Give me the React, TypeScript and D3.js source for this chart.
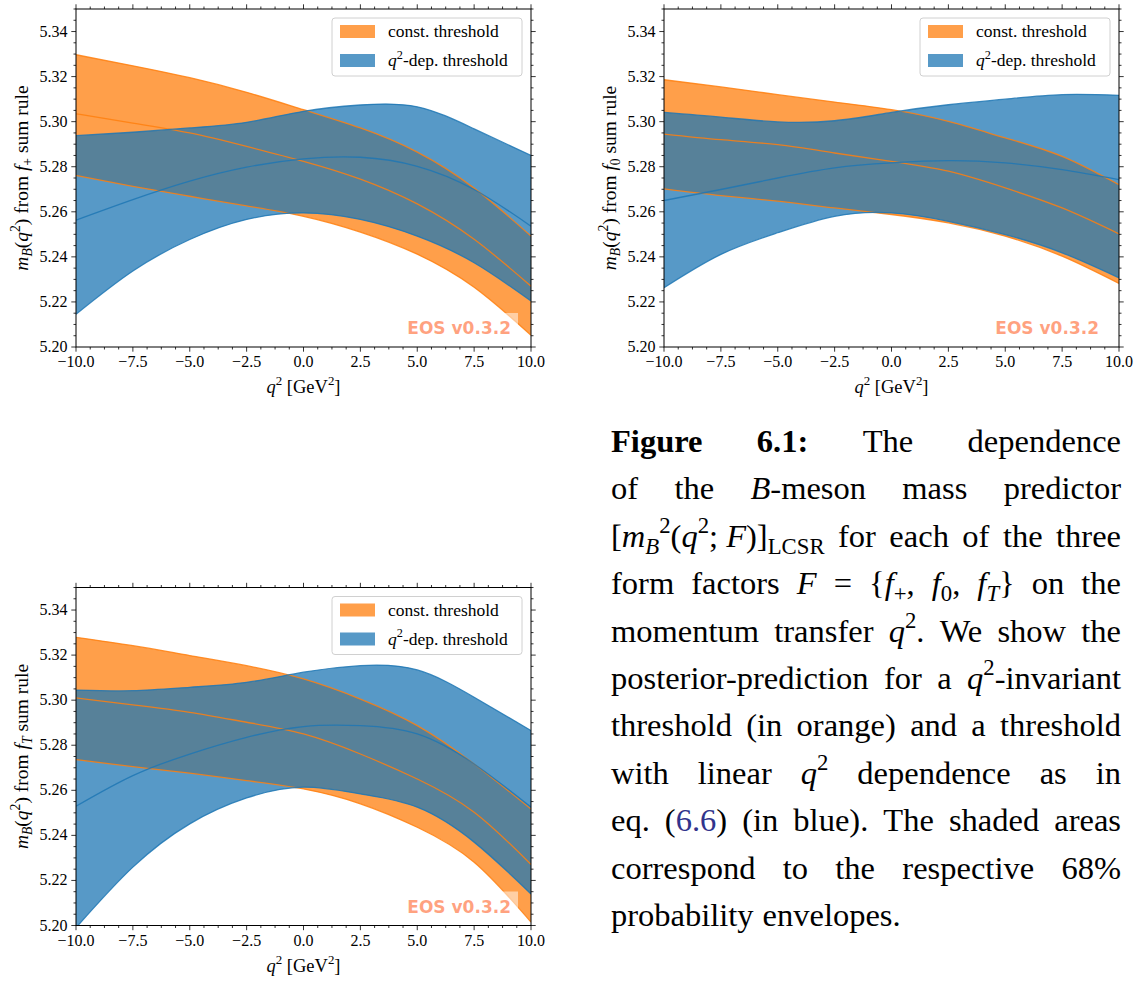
import React from 'react';
import * as d3 from 'd3';

// ---------------- data ----------------
const Q2 = [-10, -7.5, -5, -2.5, 0, 2.5, 5, 7.5, 10];

// f+ sum rule
const fpConstHi = [5.3297, 5.3248, 5.3195, 5.313, 5.3053, 5.2972, 5.2865, 5.2705, 5.2492];
const fpConstMid = [5.3035, 5.2994, 5.295, 5.289, 5.2824, 5.2745, 5.2635, 5.2478, 5.227];
const fpConstLo = [5.2761, 5.2713, 5.2669, 5.2626, 5.258, 5.251, 5.2412, 5.2265, 5.2052];
const fpDepHi = [5.2938, 5.2953, 5.2972, 5.2997, 5.3046, 5.3074, 5.3066, 5.2968, 5.285];
const fpDepMid = [5.2563, 5.2654, 5.2736, 5.2798, 5.2835, 5.2842, 5.2802, 5.2699, 5.2536];
const fpDepLo = [5.2145, 5.2337, 5.2477, 5.2566, 5.2595, 5.2566, 5.2492, 5.2374, 5.2204];

// f0 sum rule
const f0ConstHi = [5.3186, 5.3154, 5.312, 5.3087, 5.3053, 5.3001, 5.2928, 5.2846, 5.272];
const f0ConstMid = [5.2945, 5.292, 5.2898, 5.2861, 5.2824, 5.278, 5.2706, 5.2617, 5.2502];
const f0ConstLo = [5.2702, 5.2672, 5.2647, 5.2617, 5.2588, 5.2551, 5.2492, 5.2403, 5.2282];
const f0DepHi = [5.3041, 5.302, 5.2999, 5.3004, 5.3041, 5.3075, 5.31, 5.312, 5.3117];
const f0DepMid = [5.265, 5.2699, 5.275, 5.2795, 5.2817, 5.2827, 5.2817, 5.2787, 5.2743];
const f0DepLo = [5.2263, 5.2411, 5.2507, 5.258, 5.2595, 5.2558, 5.2499, 5.2418, 5.2307];

// fT sum rule
const fTConstHi = [5.3279, 5.3242, 5.3198, 5.3153, 5.3094, 5.3005, 5.2887, 5.2717, 5.2517];
const fTConstMid = [5.301, 5.2979, 5.2946, 5.2902, 5.285, 5.2761, 5.265, 5.2503, 5.2271];
const fTConstLo = [5.2736, 5.2705, 5.2676, 5.2643, 5.2606, 5.254, 5.2436, 5.2281, 5.2015];
const fTDepHi = [5.3045, 5.3042, 5.3057, 5.3079, 5.3124, 5.3153, 5.3134, 5.3013, 5.2865];
const fTDepMid = [5.2529, 5.2665, 5.2761, 5.2835, 5.2883, 5.2887, 5.285, 5.2717, 5.2525];
const fTDepLo = [5.199, 5.2259, 5.2451, 5.2566, 5.2614, 5.2584, 5.2525, 5.237, 5.214];

const X_DOMAIN = [-10, 10];
const Y_DOMAIN = [5.2, 5.35];
const X_TICKS = [-10, -7.5, -5, -2.5, 0, 2.5, 5, 7.5, 10];
const Y_TICKS = [5.2, 5.22, 5.24, 5.26, 5.28, 5.3, 5.32, 5.34];
const LEGEND_LABELS = ['const. threshold', 'q2-dep. threshold'];
const WATERMARK = 'EOS v0.3.2';

// ---------------- rich text helpers ----------------
type Span = { t: string; it?: boolean; b?: boolean; sc?: number; dy?: number; c?: string };
const R = (t: string): Span => ({ t });
const It = (t: string): Span => ({ t, it: true });
const Bd = (t: string): Span => ({ t, b: true });
const Sup = (t: string): Span => ({ t, sc: 0.7, dy: -0.42 });
const Sub = (t: string, it = false): Span => ({ t, sc: 0.7, dy: 0.22, it });

const SERIF = 'Liberation Serif';
const SERIF_CSS = "'Liberation Serif', 'DejaVu Serif', serif";

let _ctx: CanvasRenderingContext2D | null = null;
function textWidth(t: string, font: string) {
  if (!_ctx) _ctx = document.createElement('canvas').getContext('2d');
  _ctx!.font = font;
  return _ctx!.measureText(t).width;
}

function layout(spans: Span[], size: number) {
  let x = 0;
  const items: any[] = [];
  for (const s of spans) {
    const fs = size * (s.sc ?? 1);
    const font = `${s.it ? 'italic ' : ''}${s.b ? 'bold ' : ''}${fs}px "${SERIF}"`;
    const w = textWidth(s.t, font);
    items.push({ ...s, x, fs, w });
    x += w;
  }
  return { items, width: x };
}

// one <text> element per rich string; spans placed as absolutely positioned tspans
function Rich({ spans, size, x, y, anchor = 'start', fill = '#000' }: any) {
  const { items, width } = layout(spans, size);
  const x0 = anchor === 'middle' ? x - width / 2 : anchor === 'end' ? x - width : x;
  return (
    <text fontFamily={SERIF_CSS} fill={fill} style={{ whiteSpace: 'pre' }}>
      {items.map((it: any, i: number) => (
        <tspan
          key={i}
          x={x0 + it.x}
          y={y + (it.dy ?? 0) * size}
          fontSize={it.fs}
          fontStyle={it.it ? 'italic' : 'normal'}
          fontWeight={it.b ? 'bold' : 'normal'}
          fill={it.c ?? fill}
        >
          {it.t}
        </tspan>
      ))}
    </text>
  );
}

// ---------------- panel ----------------
const ORANGE = '#ff7f0e';
const BLUE = '#1f77b4';
const W = 455;
const H = 338;

function Panel({ id, left, top, sub, cHi, cMid, cLo, dHi, dMid, dLo }: any) {
  const x = d3.scaleLinear().domain(X_DOMAIN).range([0, W]);
  const y = d3.scaleLinear().domain(Y_DOMAIN).range([H, 0]);
  const band = (lo: number[], hi: number[]) => Q2.map((q, i) => ({ q, lo: lo[i], hi: hi[i] }));
  const pts = (v: number[]) => Q2.map((q, i) => ({ q, v: v[i] }));
  const curve = d3.curveNatural;
  const area = d3
    .area<any>()
    .x((d) => x(d.q))
    .y0((d) => y(d.lo))
    .y1((d) => y(d.hi))
    .curve(curve);
  const line = d3
    .line<any>()
    .x((d) => x(d.q))
    .y((d) => y(d.v))
    .curve(curve);

  const xMinor = d3.range(0, 33).map((i) => -10 + i * 0.625).filter((_, i) => i % 4 !== 0);
  const yMinor = d3.range(0, 31).map((i) => 5.2 + i * 0.005).filter((_, i) => i % 4 !== 0);
  const fx = d3.format('.1f');
  const fy = d3.format('.2f');
  const ML = 4.7;
  const mL = 2.5;

  const legX = W - 9 - 190;
  const legY = 9;

  const ylabel: Span[] = [It('m'), Sub('B', true), R('('), It('q'), Sup('2'), R(')'), R(' from '), It('f'), ...sub, R(' sum rule')];
  const xlabel: Span[] = [It('q'), Sup('2'), R(' [GeV'), Sup('2'), R(']')];

  return (
    <g transform={`translate(${left},${top})`}>
      <defs>
        <clipPath id={`clip-${id}`}>
          <rect x={0} y={0} width={W} height={H} />
        </clipPath>
      </defs>
      <g clipPath={`url(#clip-${id})`}>
        <path d={area(band(cLo, cHi))!} fill={ORANGE} fillOpacity={0.75} />
        <path d={area(band(dLo, dHi))!} fill={BLUE} fillOpacity={0.75} />
        {[cHi, cMid, cLo].map((v, i) => (
          <path key={'o' + i} d={line(pts(v))!} fill="none" stroke={ORANGE} strokeWidth={1.3} strokeOpacity={0.85} />
        ))}
        {[dHi, dMid, dLo].map((v, i) => (
          <path key={'b' + i} d={line(pts(v))!} fill="none" stroke={BLUE} strokeWidth={1.3} strokeOpacity={0.85} />
        ))}
        {/* watermark */}
        <rect x={W - 131} y={H - 34} width={118} height={29} fill="#fff" fillOpacity={0.5} />
        <text
          x={W - 20}
          y={H - 13}
          textAnchor="end"
          fontFamily="'DejaVu Sans', sans-serif"
          fontWeight="bold"
          fontSize={17}
          fill="#ff4500"
          fillOpacity={0.5}
        >
          {WATERMARK}
        </text>
      </g>

      {/* legend */}
      <g>
        <rect x={legX} y={legY} width={190} height={58} rx={3} fill="#fff" fillOpacity={0.8} stroke="#d0d0d0" strokeWidth={1} />
        <rect x={legX + 8} y={legY + 7} width={35} height={13} fill={ORANGE} fillOpacity={0.75} />
        <rect x={legX + 8} y={legY + 36} width={35} height={13} fill={BLUE} fillOpacity={0.75} />
        <Rich spans={[R(LEGEND_LABELS[0])]} size={17.5} x={legX + 56} y={legY + 19} />
        <Rich spans={[It('q'), Sup('2'), R(LEGEND_LABELS[1].slice(2))]} size={17.5} x={legX + 56} y={legY + 48} />
      </g>

      {/* frame */}
      <rect x={0} y={0} width={W} height={H} fill="none" stroke="#000" strokeWidth={1} />

      {/* ticks */}
      <g stroke="#000" strokeWidth={0.8}>
        {X_TICKS.map((t) => (
          <g key={'xt' + t}>
            <line x1={x(t)} x2={x(t)} y1={H} y2={H + ML} />
            <line x1={x(t)} x2={x(t)} y1={0} y2={-ML} />
          </g>
        ))}
        {xMinor.map((t) => (
          <g key={'xm' + t}>
            <line x1={x(t)} x2={x(t)} y1={H} y2={H + mL} />
            <line x1={x(t)} x2={x(t)} y1={0} y2={-mL} />
          </g>
        ))}
        {Y_TICKS.map((t) => (
          <g key={'yt' + t}>
            <line x1={0} x2={-ML} y1={y(t)} y2={y(t)} />
            <line x1={W} x2={W + ML} y1={y(t)} y2={y(t)} />
          </g>
        ))}
        {yMinor.map((t) => (
          <g key={'ym' + t}>
            <line x1={0} x2={-mL} y1={y(t)} y2={y(t)} />
            <line x1={W} x2={W + mL} y1={y(t)} y2={y(t)} />
          </g>
        ))}
      </g>
      <g fontFamily={SERIF_CSS} fontSize={16} fill="#000">
        {X_TICKS.map((t) => (
          <text key={'xl' + t} x={x(t)} y={H + 20} textAnchor="middle">
            {fx(t)}
          </text>
        ))}
        {Y_TICKS.map((t) => (
          <text key={'yl' + t} x={-8.5} y={y(t) + 5} textAnchor="end">
            {fy(t)}
          </text>
        ))}
      </g>
      <Rich spans={xlabel} size={18.5} x={W / 2} y={H + 46} anchor="middle" />
      <g transform={`translate(${-48},${H / 2}) rotate(-90)`}>
        <Rich spans={ylabel} size={19.5} x={0} y={0} anchor="middle" />
      </g>
    </g>
  );
}

// ---------------- caption ----------------
const LINK = '#31348c';
type Word = string | Span[];
const CAPTION: Word[][] = [
  [[Bd('Figure')], [Bd('6.1:')], 'The', 'dependence'],
  ['of', 'the', [It('B'), R('-meson')], 'mass', 'predictor'],
  [
    [R('['), It('m'), Sub('B', true), Sup('2'), R('('), It('q'), Sup('2'), R('; '), It('F'), R(')]'), Sub('LCSR')],
    'for',
    'each',
    'of',
    'the',
    'three',
  ],
  ['form', 'factors', [It('F')], '=', [R('{'), It('f'), Sub('+'), R(',')], [It('f'), Sub('0'), R(',')], [It('f'), Sub('T', true), R('}')], 'on', 'the'],
  ['momentum', 'transfer', [It('q'), Sup('2'), R('.')], 'We', 'show', 'the'],
  ['posterior-prediction', 'for', 'a', [It('q'), Sup('2'), R('-invariant')]],
  ['threshold', '(in', 'orange)', 'and', 'a', 'threshold'],
  ['with', 'linear', [It('q'), Sup('2')], 'dependence', 'as', 'in'],
  ['eq.', [R('('), { t: '6.6', c: LINK }, R(')')], '(in', 'blue).', 'The', 'shaded', 'areas'],
  ['correspond', 'to', 'the', 'respective', '68%'],
  ['probability', 'envelopes.'],
];

function Caption() {
  const left = 611;
  const right = 1121;
  const size = 32.5;
  const base0 = 452;
  const lead = 47.4;
  const spaceW = textWidth(' ', `${size}px "${SERIF}"`) * 1.1;
  return (
    <g>
      {CAPTION.map((line, li) => {
        const words = line.map((w) => (typeof w === 'string' ? [R(w)] : w));
        const widths = words.map((w) => layout(w, size).width);
        const total = widths.reduce((a, b) => a + b, 0);
        const last = li === CAPTION.length - 1;
        const gap = last ? spaceW : (right - left - total) / (words.length - 1);
        let x = left;
        const y = base0 + li * lead;
        return (
          <g key={li}>
            {words.map((w, wi) => {
              const el = <Rich key={wi} spans={w} size={size} x={x} y={y} />;
              x += widths[wi] + gap;
              return el;
            })}
          </g>
        );
      })}
    </g>
  );
}

export default function App() {
  return (
    <svg width={1147} height={983} style={{ position: 'absolute', left: 0, top: 0, background: '#fff' }}>
      <rect width={1147} height={983} fill="#fff" />
      <Panel id="fp" left={76} top={9} sub={[Sub('+')]} cHi={fpConstHi} cMid={fpConstMid} cLo={fpConstLo} dHi={fpDepHi} dMid={fpDepMid} dLo={fpDepLo} />
      <Panel id="f0" left={664} top={9} sub={[Sub('0')]} cHi={f0ConstHi} cMid={f0ConstMid} cLo={f0ConstLo} dHi={f0DepHi} dMid={f0DepMid} dLo={f0DepLo} />
      <Panel id="fT" left={76} top={587.5} sub={[Sub('T', true)]} cHi={fTConstHi} cMid={fTConstMid} cLo={fTConstLo} dHi={fTDepHi} dMid={fTDepMid} dLo={fTDepLo} />
      <Caption />
    </svg>
  );
}
